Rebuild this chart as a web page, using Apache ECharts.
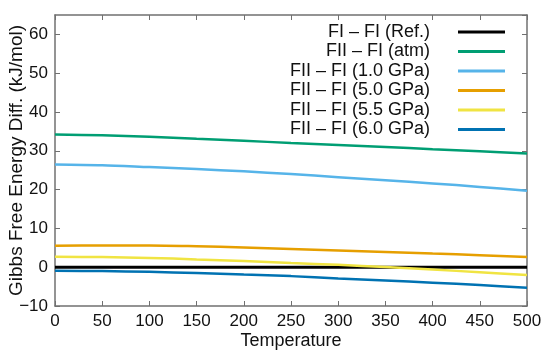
<!DOCTYPE html>
<html>
<head>
<meta charset="utf-8">
<script src="https://cdn.jsdelivr.net/npm/echarts@6/dist/echarts.min.js"></script>
<style>html,body{margin:0;padding:0;background:#fff}#c{width:550px;height:356px}</style>
</head>
<body>
<div id="c"></div>
<script>
const temperatures = [0, 50, 100, 150, 200, 250, 300, 350, 400, 450, 500];
const seriesNames = ['FI – FI (Ref.)', 'FII – FI (atm)', 'FII – FI (1.0 GPa)', 'FII – FI (5.0 GPa)', 'FII – FI (5.5 GPa)', 'FII – FI (6.0 GPa)'];
const ref   = [0, 0, 0, 0, 0, 0, 0, 0, 0, 0, 0];
const atm   = [34.2, 34.0, 33.6, 33.1, 32.6, 32.0, 31.5, 31.0, 30.4, 29.9, 29.3];
const gpa10 = [26.5, 26.3, 25.8, 25.3, 24.7, 24.0, 23.2, 22.4, 21.6, 20.7, 19.7];
const gpa50 = [5.5, 5.6, 5.6, 5.4, 5.1, 4.7, 4.3, 3.9, 3.5, 3.1, 2.6];
const gpa55 = [2.7, 2.6, 2.4, 2.0, 1.6, 1.1, 0.6, 0.05, -0.6, -1.3, -2.0];
const gpa60 = [-0.9, -1.0, -1.2, -1.5, -1.9, -2.3, -2.9, -3.4, -4.0, -4.6, -5.3];
const allValues = [ref, atm, gpa10, gpa50, gpa55, gpa60];
const colors = ['#000000', '#009e73', '#56b4e9', '#e69f00', '#f0e442', '#0072b2'];

const font = 'Liberation Sans';
const axisColor = '#707070';

function pairs(vals) { return temperatures.map((t, i) => [t, vals[i]]); }

const baseX = { type: 'value', min: 0, max: 500, interval: 50 };
const baseY = { type: 'value', min: -10, max: 65, interval: 10 };
const lineSt = { show: true, onZero: false, lineStyle: { color: axisColor, width: 1.5 } };
const tickSt = { show: true, inside: true, length: 5, lineStyle: { color: axisColor } };

const chart = echarts.init(document.getElementById('c'), null, { renderer: 'canvas' });
chart.setOption({
  animation: false,
  backgroundColor: '#fff',
  grid: { left: 55, right: 23, top: 15, bottom: 50, containLabel: false, outerBoundsMode: 'none' },
  legend: {
    orient: 'vertical',
    right: 40,
    top: 18,
    align: 'right',
    icon: 'rect',
    itemWidth: 47,
    itemHeight: 3,
    itemGap: 1.5,
    data: seriesNames,
    textStyle: { fontFamily: font, fontSize: 18, color: '#111', lineHeight: 18, padding: [0, 23, 0, 0] }
  },
  xAxis: [
    Object.assign({}, baseX, {
      position: 'bottom',
      name: 'Temperature', nameLocation: 'middle', nameGap: 26, nameMoveOverlap: false,
      nameTextStyle: { fontFamily: font, fontSize: 18, color: '#111' },
      axisLine: lineSt,
      axisTick: tickSt,
      axisLabel: { fontFamily: font, fontSize: 17, color: '#111', margin: 7 },
      splitLine: { show: false }
    }),
    Object.assign({}, baseX, {
      position: 'top',
      axisLine: lineSt,
      axisTick: tickSt,
      axisLabel: { show: false },
      splitLine: { show: false }
    })
  ],
  yAxis: [
    Object.assign({}, baseY, {
      position: 'left',
      name: 'Gibbs Free Energy Diff. (kJ/mol)', nameLocation: 'middle', nameGap: 29, nameMoveOverlap: false,
      nameTextStyle: { fontFamily: font, fontSize: 19, color: '#111' },
      axisLine: lineSt,
      axisTick: tickSt,
      axisLabel: { fontFamily: font, fontSize: 17, color: '#111', margin: 7, showMaxLabel: false,
        formatter: v => (v === 65 ? '' : String(v).replace('-', '−')) },
      splitLine: { show: false }
    }),
    Object.assign({}, baseY, {
      position: 'right',
      axisLine: lineSt,
      axisTick: tickSt,
      axisLabel: { show: false },
      splitLine: { show: false }
    })
  ],
  series: seriesNames.map((name, i) => ({
    name: name,
    type: 'line',
    xAxisIndex: 0,
    yAxisIndex: 0,
    data: pairs(allValues[i]),
    symbol: 'none',
    smooth: 0.3,
    color: colors[i],
    lineStyle: { color: colors[i], width: i === 0 ? 3 : 2.5 }
  }))
});
</script>
</body>
</html>
